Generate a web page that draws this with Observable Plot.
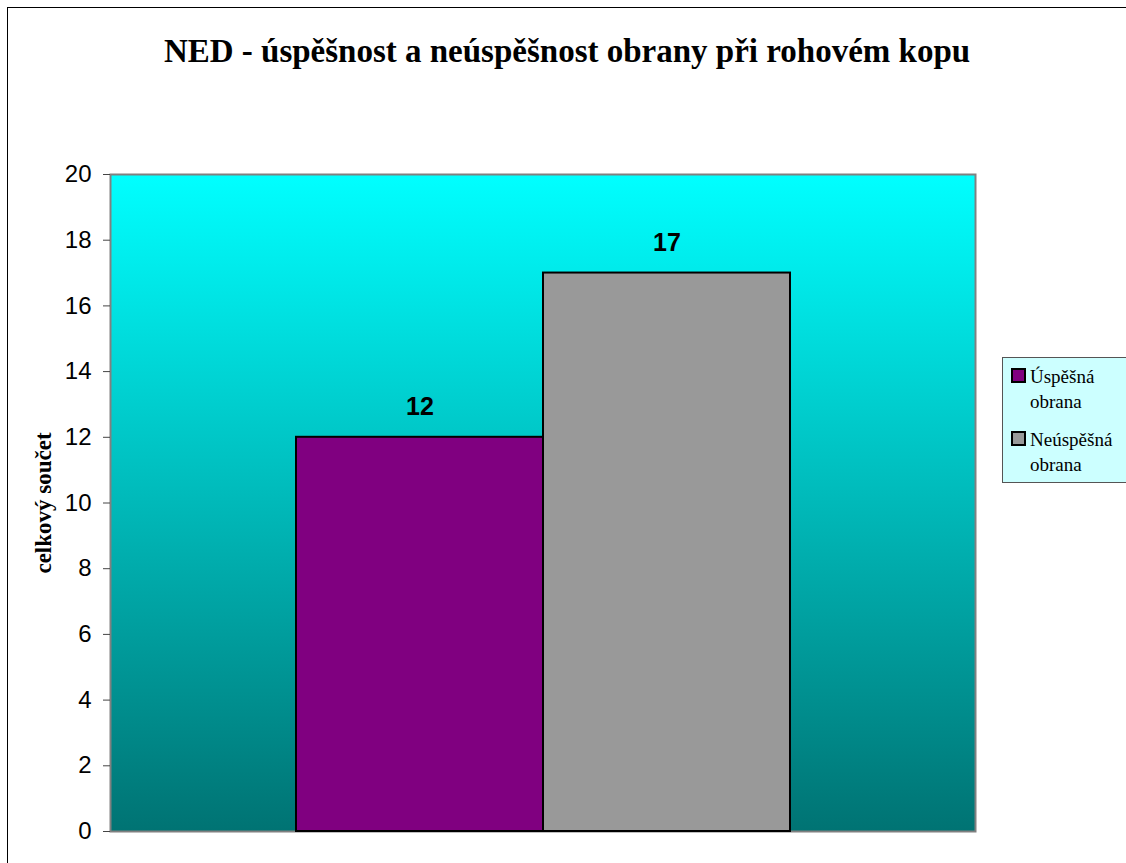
<!DOCTYPE html>
<html><head><meta charset="utf-8">
<script src="https://cdn.jsdelivr.net/npm/d3@7"></script>
<script src="https://cdn.jsdelivr.net/npm/@observablehq/plot@0.6"></script>
<style>
html,body{margin:0;padding:0;background:#fff;}
#wrap{position:relative;width:1126px;height:863px;overflow:hidden;}
#border{position:absolute;left:7px;top:7px;width:1200px;height:1000px;border:1px solid #000;box-sizing:border-box;}
#title{position:absolute;left:0;width:1134px;top:35px;text-align:center;font-family:"Liberation Serif","Times New Roman",serif;font-weight:bold;font-size:33px;line-height:33px;color:#000;}
#legend{position:absolute;left:1002px;top:357px;width:140px;height:126px;background:#ccffff;border:1px solid #555;box-sizing:border-box;font-family:"Liberation Serif","Times New Roman",serif;font-size:19px;color:#000;}
.item{position:absolute;left:27px;line-height:25px;white-space:nowrap;}
.sw{position:absolute;left:-19px;top:4px;width:15px;height:15px;border:2px solid #000;box-sizing:border-box;}
#chart{position:absolute;left:0;top:0;}
</style></head>
<body><div id="wrap"><div id="border"></div><div id="chart"></div>
<div id="title">NED - úspěšnost a neúspěšnost obrany při rohovém kopu</div>
<div id="legend"></div></div>
<script>
const categories = ["Úspěšná obrana", "Neúspěšná obrana"];
const values = [12, 17];
const colors = ["#800080", "#999999"];
const yTicks = [0, 2, 4, 6, 8, 10, 12, 14, 16, 18, 20];
const yLabel = "celkový součet";

const data = categories.map((c, i) => ({category: c, value: values[i], color: colors[i]}));

const chart = Plot.plot({
  width: 1126, height: 863,
  marginLeft: 110, marginRight: 151, marginTop: 174, marginBottom: 32,
  style: {background: "transparent", overflow: "visible"},
  x: {domain: categories, paddingInner: 0, paddingOuter: 0.747, axis: null},
  y: {domain: [0, 20], ticks: yTicks, label: null},
  marks: [
    Plot.frame({fill: "url(#bggrad)", stroke: "#808080", strokeWidth: 2}),
    Plot.barY(data, {x: "category", y: "value", fill: "color", stroke: "#000", strokeWidth: 2}),
    Plot.text(data, {x: "category", y: "value", text: d => String(d.value), dy: -30, fontSize: 25, fontWeight: "bold", fontFamily: "Liberation Sans, Arial, sans-serif", fill: "#000"}),
    Plot.axisY({ticks: yTicks, tickSize: 7, tickPadding: 12, fontSize: 24, fontFamily: "Liberation Sans, Arial, sans-serif", stroke: "#444", color: "#000", label: null, tickFormat: d => String(d)}),
    Plot.axisY({anchor: "left", ticks: [], label: yLabel, labelAnchor: "center", labelArrow: "none", labelOffset: 76, fontSize: 23, fontWeight: "bold", fontFamily: "Liberation Serif, Times New Roman, serif", color: "#000"})
  ]
});

const svg = d3.select(chart);
const defs = svg.insert("defs", ":first-child");
const g = defs.append("linearGradient").attr("id", "bggrad").attr("x1", 0).attr("y1", 0).attr("x2", 0).attr("y2", 1);
g.append("stop").attr("offset", "0%").attr("stop-color", "#00ffff");
g.append("stop").attr("offset", "100%").attr("stop-color", "#007373");
document.getElementById("chart").appendChild(chart);

const legend = document.getElementById("legend");
const parts = [["Úspěšná", "obrana"], ["Neúspěšná", "obrana"]];
categories.forEach((c, i) => {
  const it = document.createElement("div");
  it.className = "item";
  it.style.top = (6 + i * 63) + "px";
  it.innerHTML = `<span class="sw" style="background:${colors[i]}"></span>${parts[i][0]}<br>${parts[i][1]}`;
  legend.appendChild(it);
});
</script></body></html>
